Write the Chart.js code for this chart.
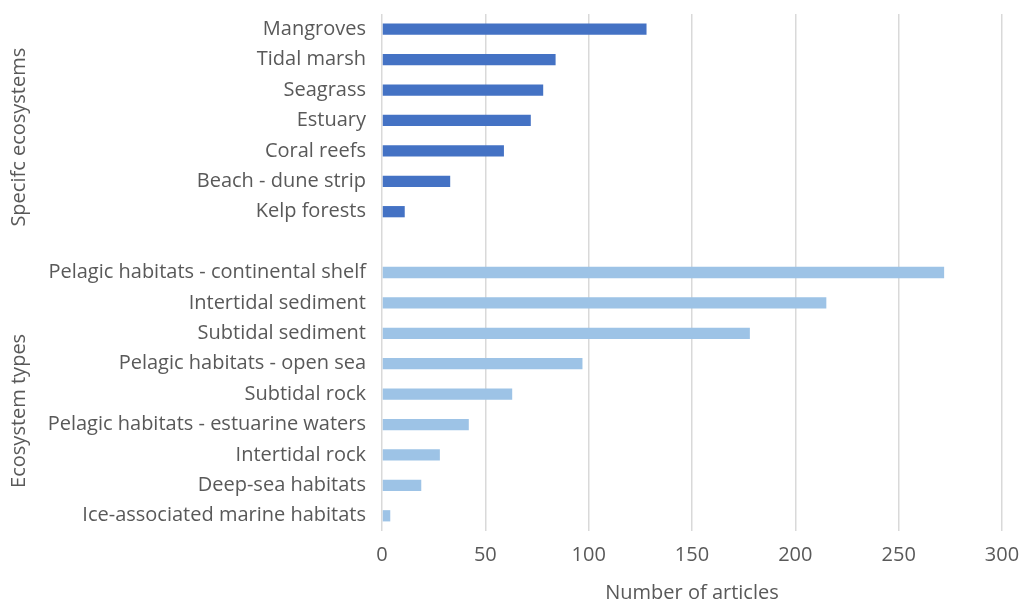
<!DOCTYPE html>
<html>
<head>
<meta charset="utf-8">
<script src="https://cdn.jsdelivr.net/npm/chart.js@4.4.1/dist/chart.umd.min.js"></script>
<style>
  html, body { margin: 0; padding: 0; background: #fff; }
  #wrap { width: 1019px; height: 605px; }
</style>
</head>
<body>
<div id="wrap"><canvas id="grafico"></canvas></div>
<script>
// --- dados ---
const specificLabels = ['Mangroves', 'Tidal marsh', 'Seagrass', 'Estuary', 'Coral reefs', 'Beach - dune strip', 'Kelp forests'];
const specificCounts = [128, 84, 78, 72, 59, 33, 11];

const typeLabels = [
    'Pelagic habitats - continental shelf', 'Intertidal sediment', 'Subtidal sediment',
    'Pelagic habitats - open sea', 'Subtidal rock', 'Pelagic habitats - estuarine waters',
    'Intertidal rock', 'Deep-sea habitats', 'Ice-associated marine habitats'
];
const typeCounts = [272, 215, 178, 97, 63, 42, 28, 19, 4];

const groupTitles = ['Specifc ecosystems', 'Ecosystem types'];
const xTicks = [0, 50, 100, 150, 200, 250, 300];

// --- estilo ---
const corEspecifico = '#4472C4';
const corTipos = '#9DC3E6';
const corTexto = '#595959';
const fonte = '"Open Sans", sans-serif';
const tamFonte = 20;

// uma linha vazia separa os dois grupos
const labels = [...specificLabels, '', ...typeLabels];
const valores = [...specificCounts, null, ...typeCounts];
const cores = [
    ...specificLabels.map(() => corEspecifico),
    corEspecifico,
    ...typeLabels.map(() => corTipos)
];

// índices (primeiro, último) de cada grupo no eixo de categorias
const grupos = [
    [0, specificLabels.length - 1],
    [specificLabels.length + 1, labels.length - 1]
];

// desenha os títulos dos grupos na vertical, à esquerda
const tituloGrupos = {
    id: 'tituloGrupos',
    afterDraw(chart) {
        const ctx = chart.ctx;
        const y = chart.scales.y;
        ctx.save();
        ctx.fillStyle = corTexto;
        ctx.font = tamFonte + 'px ' + fonte;
        ctx.textAlign = 'center';
        ctx.textBaseline = 'middle';
        grupos.forEach(([a, b], i) => {
            const centro = y.getPixelForValue((a + b) / 2 + 0.55);
            ctx.save();
            ctx.translate(19, centro);
            ctx.rotate(-Math.PI / 2);
            ctx.fillText(groupTitles[i], 0, 0);
            ctx.restore();
        });
        ctx.restore();
    }
};

new Chart(document.getElementById('grafico'), {
    type: 'bar',
    data: {
        labels: labels,
        datasets: [{
            data: valores,
            backgroundColor: cores,
            categoryPercentage: 1,
            barPercentage: 0.37
        }]
    },
    options: {
        indexAxis: 'y',
        responsive: true,
        maintainAspectRatio: false,
        animation: false,
        layout: { padding: { left: 0, right: 17, top: 14, bottom: 0 } },
        plugins: {
            legend: { display: false },
            tooltip: { enabled: false }
        },
        scales: {
            x: {
                min: 0,
                max: 300,
                afterBuildTicks(scale) {
                    scale.ticks = xTicks.map(v => ({ value: v }));
                },
                afterFit(scale) {
                    scale.paddingLeft = 0;
                    scale.paddingRight = 0;
                },
                grid: { color: '#d9d9d9', lineWidth: 1.5, drawTicks: false },
                border: { display: false },
                ticks: { color: corTexto, font: { family: fonte, size: tamFonte }, padding: 12 },
                title: {
                    display: true,
                    text: 'Number of articles',
                    color: corTexto,
                    font: { family: fonte, size: tamFonte },
                    padding: { top: 2, bottom: 0 }
                }
            },
            y: {
                afterFit(scale) {
                    scale.width = 382;
                    scale.paddingTop = 0;
                    scale.paddingBottom = 0;
                },
                grid: { display: false, drawTicks: false },
                border: { display: false },
                ticks: {
                    color: corTexto,
                    font: { family: fonte, size: tamFonte },
                    padding: 16,
                    autoSkip: false
                }
            }
        }
    },
    plugins: [tituloGrupos]
});
</script>
</body>
</html>
